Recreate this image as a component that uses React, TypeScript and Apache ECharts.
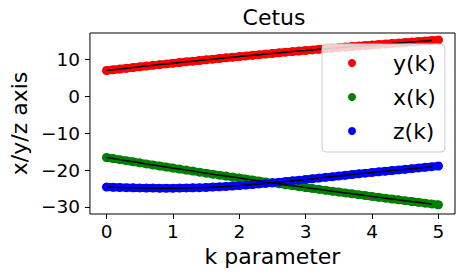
import React, { useEffect, useRef } from "react";
import * as echarts from "echarts";

const kValues = [
  0, 0.1, 0.2, 0.3, 0.4, 0.5, 0.6, 0.7, 0.8, 0.9,
  1, 1.1, 1.2, 1.3, 1.4, 1.5, 1.6, 1.7, 1.8, 1.9,
  2, 2.1, 2.2, 2.3, 2.4, 2.5, 2.6, 2.7, 2.8, 2.9,
  3, 3.1, 3.2, 3.3, 3.4, 3.5, 3.6, 3.7, 3.8, 3.9,
  4, 4.1, 4.2, 4.3, 4.4, 4.5, 4.6, 4.7, 4.8, 4.9, 5,
];

const yK = [
  6.95, 7.15, 7.36, 7.56, 7.76, 7.95, 8.15, 8.34, 8.54, 8.73,
  8.92, 9.1, 9.29, 9.48, 9.66, 9.84, 10.02, 10.2, 10.38, 10.55,
  10.72, 10.9, 11.07, 11.24, 11.4, 11.57, 11.73, 11.9, 12.06, 12.22,
  12.37, 12.53, 12.69, 12.84, 12.99, 13.14, 13.29, 13.44, 13.58, 13.72,
  13.87, 14.01, 14.15, 14.28, 14.42, 14.55, 14.69, 14.82, 14.95, 15.07, 15.2,
];

const xK = [
  -16.6, -16.89, -17.18, -17.47, -17.76, -18.05, -18.34, -18.62, -18.9, -19.18,
  -19.46, -19.74, -20.02, -20.29, -20.57, -20.84, -21.11, -21.38, -21.64, -21.91,
  -22.17, -22.44, -22.7, -22.96, -23.22, -23.47, -23.73, -23.98, -24.23, -24.49,
  -24.73, -24.98, -25.23, -25.47, -25.72, -25.96, -26.2, -26.44, -26.67, -26.91,
  -27.14, -27.38, -27.61, -27.84, -28.06, -28.29, -28.52, -28.74, -28.96, -29.18, -29.4,
];

const zK = [
  -24.6, -24.66, -24.71, -24.76, -24.81, -24.85, -24.87, -24.89, -24.9, -24.9,
  -24.9, -24.88, -24.85, -24.81, -24.76, -24.7, -24.62, -24.53, -24.43, -24.32,
  -24.2, -24.06, -23.92, -23.77, -23.61, -23.45, -23.28, -23.1, -22.92, -22.74,
  -22.55, -22.36, -22.17, -21.98, -21.79, -21.6, -21.41, -21.22, -21.03, -20.84,
  -20.65, -20.48, -20.31, -20.14, -19.97, -19.8, -19.62, -19.44, -19.26, -19.08, -18.9,
];

const xTicks = [0, 1, 2, 3, 4, 5];
const yTicks = [-30, -20, -10, 0, 10];
const seriesNames = ["y(k)", "x(k)", "z(k)"];
const seriesColors = ["#ff0000", "#008000", "#0000ff"];
const fitEndIndex = 50; // fitted curve drawn up to k = 4.9

const FONT = "DejaVu Sans";

export default function App() {
  const ref = useRef<HTMLDivElement>(null);

  useEffect(() => {
    if (!ref.current) return;
    const chart = echarts.init(ref.current, null, { renderer: "svg" });
    const allValues = [yK, xK, zK];
    const pairs = (vals: number[]) => kValues.map((k, i) => [k, vals[i]]);
    const minus = (v: number) => String(v).replace("-", "\u2212");

    // dense sample band underneath the dots (same data, same colour)
    const bandSeries = allValues.map((vals, i) => ({
      type: "line",
      data: pairs(vals),
      showSymbol: false,
      symbol: "none",
      lineStyle: { color: seriesColors[i], width: 8, cap: "round", join: "round" },
      z: 1,
      silent: true,
    }));
    const scatterSeries = allValues.map((vals, i) => ({
      type: "scatter",
      name: seriesNames[i],
      data: pairs(vals),
      symbol: "circle",
      symbolSize: 9,
      itemStyle: { color: seriesColors[i], opacity: 1 },
      z: 2,
      silent: true,
    }));
    const fitSeries = allValues.map((vals) => ({
      type: "line",
      data: pairs(vals).slice(0, fitEndIndex),
      showSymbol: false,
      symbol: "none",
      lineStyle: { color: "#000000", width: 1.5 },
      z: 3,
      silent: true,
    }));

    chart.setOption({
      animation: false,
      backgroundColor: "#ffffff",
      textStyle: { fontFamily: FONT },
      title: {
        text: "Cetus",
        left: 269,
        top: 1,
        textAlign: "center",
        textStyle: { fontFamily: FONT, fontSize: 22, fontWeight: "normal", color: "#000" },
      },
      legend: {
        data: seriesNames,
        orient: "vertical",
        left: 322,
        top: 44,
        icon: "circle",
        itemWidth: 8,
        itemHeight: 8,
        itemGap: 10,
        padding: [7, 9, 9, 26],
        backgroundColor: "rgba(255,255,255,0.8)",
        borderColor: "#cccccc",
        borderWidth: 1,
        borderRadius: 4,
        textStyle: {
          fontFamily: FONT,
          fontSize: 22,
          color: "#000",
          lineHeight: 24,
          padding: [0, 0, 0, 32],
        },
      },
      grid: {
        left: 83,
        top: 33,
        width: 372,
        height: 181,
        show: true,
        borderColor: "#000",
        borderWidth: 1,
        backgroundColor: "transparent",
      },
      xAxis: {
        type: "value",
        min: -0.25,
        max: 5.25,
        name: "k parameter",
        nameLocation: "middle",
        nameGap: 30,
        nameTextStyle: { fontFamily: FONT, fontSize: 22, color: "#000" },
        axisLine: { show: false, onZero: false },
        splitLine: { show: false },
        axisTick: {
          show: true,
          length: 5,
          lineStyle: { color: "#000", width: 1 },
          customValues: xTicks,
        },
        axisLabel: {
          fontFamily: FONT,
          fontSize: 18.5,
          color: "#000",
          margin: 8,
          customValues: xTicks,
          formatter: (v: number) => minus(v),
        },
      },
      yAxis: {
        type: "value",
        min: -31.9,
        max: 17.1,
        name: "x/y/z axis",
        nameLocation: "middle",
        nameRotate: 90,
        nameGap: 55,
        nameTextStyle: { fontFamily: FONT, fontSize: 22, color: "#000" },
        axisLine: { show: false, onZero: false },
        splitLine: { show: false },
        axisTick: {
          show: true,
          length: 5,
          lineStyle: { color: "#000", width: 1 },
          customValues: yTicks,
        },
        axisLabel: {
          fontFamily: FONT,
          fontSize: 18.5,
          color: "#000",
          margin: 10,
          customValues: yTicks,
          formatter: (v: number) => minus(v),
        },
      },
      series: [...bandSeries, ...scatterSeries, ...fitSeries],
    });

    return () => chart.dispose();
  }, []);

  return (
    <div
      ref={ref}
      style={{ position: "fixed", left: 0, top: 0, width: 463, height: 276 }}
    />
  );
}
